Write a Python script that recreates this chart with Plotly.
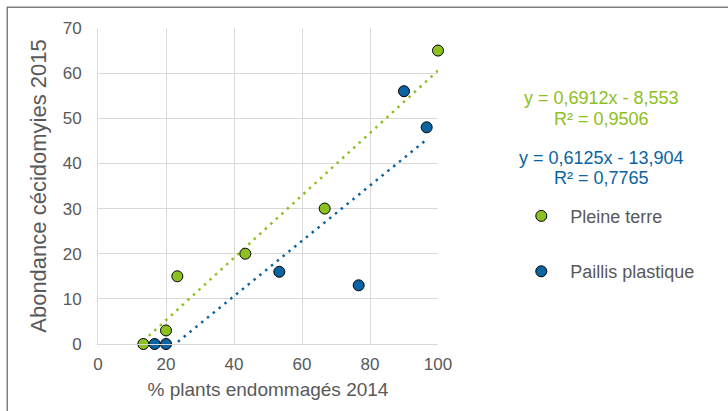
import plotly.graph_objects as go

# Data
x_pleine = [13.33, 20.0, 23.33, 43.33, 66.67, 100.0]
y_pleine = [0, 3, 15, 20, 30, 65]
x_paillis = [16.67, 20.0, 53.33, 76.67, 90.0, 96.67]
y_paillis = [0, 0, 16, 13, 56, 48]
series_names = ["Pleine terre", "Paillis plastique"]
slopes = [0.6912, 0.6125]
intercepts = [-8.553, -13.904]
eq_lines = ["y = 0,6912x - 8,553", "R² = 0,9506", "y = 0,6125x - 13,904", "R² = 0,7765"]
x_ticks = [0, 20, 40, 60, 80, 100]
y_ticks = [0, 10, 20, 30, 40, 50, 60, 70]

GREEN = "#8DC021"
BLUE = "#0A64A2"
TXT = "#595959"
FONT = "Liberation Sans, Arial, sans-serif"

W, H = 728, 411
L, R, T, B = 97.5, 289.5, 28.3, 66.7
pw, ph = W - L - R, H - T - B

def px2paper_x(px):
    return (px - L) / pw

def px2paper_y(py):
    return (H - B - py) / ph

fig = go.Figure()

# trend lines
for xs, s, b, c in [(x_pleine, slopes[0], intercepts[0], GREEN), (x_paillis, slopes[1], intercepts[1], BLUE)]:
    x0, x1 = min(xs), max(xs)
    fig.add_trace(go.Scatter(x=[x0, x1], y=[s * x0 + b, s * x1 + b], mode="lines",
                             line=dict(color=c, width=2.5, dash="2.5px,5px"),
                             showlegend=False, hoverinfo="skip"))

for xs, ys, name, c, g in [(x_pleine, y_pleine, series_names[0], GREEN, "a"),
                           (x_paillis, y_paillis, series_names[1], BLUE, "b")]:
    fig.add_trace(go.Scatter(x=xs, y=ys, mode="markers", name=name, legendgroup=g,
                             marker=dict(color=c, size=11, line=dict(color="black", width=1)),
                             cliponaxis=False))

for txt, yc, c in zip(eq_lines, [98, 119, 158, 178], [GREEN, GREEN, BLUE, BLUE]):
    fig.add_annotation(text=txt, x=px2paper_x(602), y=px2paper_y(yc), xref="paper", yref="paper",
                       xanchor="center", yanchor="middle",
                       showarrow=False, font=dict(color=c, size=18, family=FONT))

# outer border
fig.add_shape(type="rect", xref="paper", yref="paper",
              x0=px2paper_x(6.5), x1=px2paper_x(740), y0=px2paper_y(7.5), y1=px2paper_y(420),
              line=dict(color="#7f7f7f", width=1.5), fillcolor="rgba(0,0,0,0)", layer="below")

fig.update_layout(
    width=W, height=H,
    margin=dict(l=L, r=R, t=T, b=B, autoexpand=False),
    paper_bgcolor="white", plot_bgcolor="white",
    font=dict(family=FONT, color=TXT, size=17),
    showlegend=True,
    legend=dict(x=px2paper_x(513), y=px2paper_y(198), xanchor="left", yanchor="top",
                tracegroupgap=29, itemwidth=48, font=dict(size=18, color=TXT, family=FONT),
                bgcolor="rgba(0,0,0,0)"),
    xaxis=dict(range=[0, 100], tickvals=x_ticks, showgrid=True, gridcolor="#D9D9D9", gridwidth=1,
               zeroline=False, showline=True, linecolor="#D9D9D9", ticks="", ticklabelstandoff=5,
               tickfont=dict(size=17, color=TXT), fixedrange=True,
               title=dict(text="% plants endommagés 2014", font=dict(size=19, color=TXT), standoff=9)),
    yaxis=dict(range=[0, 70], tickvals=y_ticks, showgrid=True, gridcolor="#D9D9D9", gridwidth=1,
               zeroline=False, showline=True, linecolor="#D9D9D9", ticks="", ticklabelstandoff=12,
               tickfont=dict(size=17, color=TXT), fixedrange=True,
               title=dict(text="Abondance cécidomyies 2015", font=dict(size=22, color=TXT), standoff=9)),
)

fig.write_html("out.html", config={"displayModeBar": False},
               post_script="document.body.style.margin='0px';")
